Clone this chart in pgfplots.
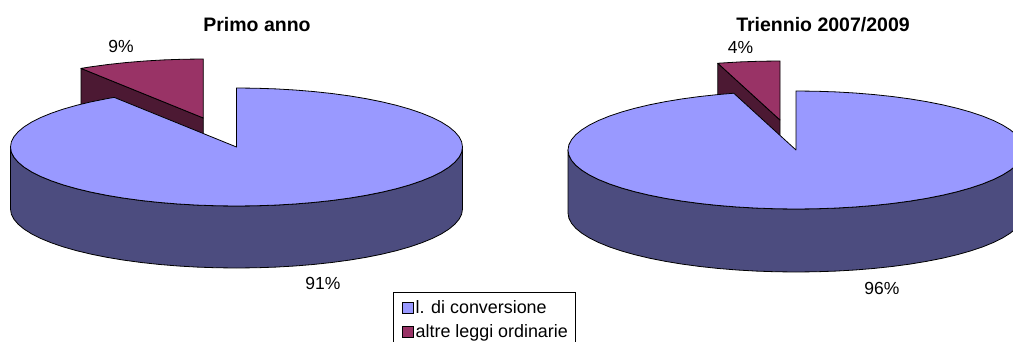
\documentclass[border=0pt]{standalone}
\usepackage{pgfplots}
\usepackage{fontspec}
\setmainfont{Liberation Sans}
\pgfplotsset{compat=1.18}
\usepackage{pgfplotstable}

\definecolor{conv}{HTML}{9999FF}
\definecolor{convdark}{HTML}{4C4C7F}
\definecolor{altre}{HTML}{993366}
\definecolor{altredark}{HTML}{4C1933}

% Outlines are listed as: angle on the rim (degrees, clockwise from the top),
% radius factor (1 on the rim, 0 at the apex), and 1 for the lower edge of a wall.

% Primo anno: 91% from 90 deg clockwise to -237.24 deg, 9% for the rest
\pgfplotstableread[row sep=\\]{
ang r d\\
90 1 0\\ 85 1 0\\ 80 1 0\\ 75 1 0\\ 70 1 0\\ 65 1 0\\ 60 1 0\\ 55 1 0\\ 50 1 0\\ 45 1 0\\
40 1 0\\ 35 1 0\\ 30 1 0\\ 25 1 0\\ 20 1 0\\ 15 1 0\\ 10 1 0\\ 5 1 0\\ 0 1 0\\
-5 1 0\\ -10 1 0\\ -15 1 0\\ -20 1 0\\ -25 1 0\\ -30 1 0\\ -35 1 0\\ -40 1 0\\ -45 1 0\\
-50 1 0\\ -55 1 0\\ -60 1 0\\ -65 1 0\\ -70 1 0\\ -75 1 0\\ -80 1 0\\ -85 1 0\\ -90 1 0\\
-95 1 0\\ -100 1 0\\ -105 1 0\\ -110 1 0\\ -115 1 0\\ -120 1 0\\ -125 1 0\\ -130 1 0\\ -135 1 0\\
-140 1 0\\ -145 1 0\\ -150 1 0\\ -155 1 0\\ -160 1 0\\ -165 1 0\\ -170 1 0\\ -175 1 0\\ -180 1 0\\
-185 1 0\\ -190 1 0\\ -195 1 0\\ -200 1 0\\ -205 1 0\\ -210 1 0\\ -215 1 0\\ -220 1 0\\ -225 1 0\\
-230 1 0\\ -235 1 0\\ -237.24 1 0\\ 0 0 0\\
}\primoMain
\pgfplotstableread[row sep=\\]{
ang r d\\
122.76 1 0\\ 120 1 0\\ 115 1 0\\ 110 1 0\\ 105 1 0\\ 100 1 0\\ 95 1 0\\ 90 1 0\\ 0 0 0\\
}\primoAltre
\pgfplotstableread[row sep=\\]{
ang r d\\
122.76 1 0\\ 0 0 0\\ 0 0 1\\ 122.76 1 1\\
}\primoAltreWall

% Triennio 2007/2009: 96% clockwise from 90 deg, 4% for the rest
\pgfplotstableread[row sep=\\]{
ang r d\\
90 1 0\\ 85 1 0\\ 80 1 0\\ 75 1 0\\ 70 1 0\\ 65 1 0\\ 60 1 0\\ 55 1 0\\ 50 1 0\\ 45 1 0\\
40 1 0\\ 35 1 0\\ 30 1 0\\ 25 1 0\\ 20 1 0\\ 15 1 0\\ 10 1 0\\ 5 1 0\\ 0 1 0\\
-5 1 0\\ -10 1 0\\ -15 1 0\\ -20 1 0\\ -25 1 0\\ -30 1 0\\ -35 1 0\\ -40 1 0\\ -45 1 0\\
-50 1 0\\ -55 1 0\\ -60 1 0\\ -65 1 0\\ -70 1 0\\ -75 1 0\\ -80 1 0\\ -85 1 0\\ -90 1 0\\
-95 1 0\\ -100 1 0\\ -105 1 0\\ -110 1 0\\ -115 1 0\\ -120 1 0\\ -125 1 0\\ -130 1 0\\ -135 1 0\\
-140 1 0\\ -145 1 0\\ -150 1 0\\ -155 1 0\\ -160 1 0\\ -165 1 0\\ -170 1 0\\ -175 1 0\\ -180 1 0\\
-185 1 0\\ -190 1 0\\ -195 1 0\\ -200 1 0\\ -205 1 0\\ -210 1 0\\ -215 1 0\\ -220 1 0\\ -225 1 0\\
-230 1 0\\ -235 1 0\\ -240 1 0\\ -245 1 0\\ -250 1 0\\ -254.16 1 0\\ 0 0 0\\
}\triennioMain
\pgfplotstableread[row sep=\\]{
ang r d\\
105.84 1 0\\ 100 1 0\\ 95 1 0\\ 90 1 0\\ 0 0 0\\
}\triennioAltre
\pgfplotstableread[row sep=\\]{
ang r d\\
105.84 1 0\\ 0 0 0\\ 0 0 1\\ 105.84 1 1\\
}\triennioAltreWall

% Front wall of a pie: upper rim left to right, lower rim back again
\pgfplotstableread[row sep=\\]{
ang r d\\
-180 1 0\\ -175 1 0\\ -170 1 0\\ -165 1 0\\ -160 1 0\\ -155 1 0\\ -150 1 0\\ -145 1 0\\ -140 1 0\\
-135 1 0\\ -130 1 0\\ -125 1 0\\ -120 1 0\\ -115 1 0\\ -110 1 0\\ -105 1 0\\ -100 1 0\\ -95 1 0\\ -90 1 0\\
-85 1 0\\ -80 1 0\\ -75 1 0\\ -70 1 0\\ -65 1 0\\ -60 1 0\\ -55 1 0\\ -50 1 0\\ -45 1 0\\
-40 1 0\\ -35 1 0\\ -30 1 0\\ -25 1 0\\ -20 1 0\\ -15 1 0\\ -10 1 0\\ -5 1 0\\ 0 1 0\\
0 1 1\\ -5 1 1\\ -10 1 1\\ -15 1 1\\ -20 1 1\\ -25 1 1\\ -30 1 1\\ -35 1 1\\ -40 1 1\\
-45 1 1\\ -50 1 1\\ -55 1 1\\ -60 1 1\\ -65 1 1\\ -70 1 1\\ -75 1 1\\ -80 1 1\\ -85 1 1\\ -90 1 1\\
-95 1 1\\ -100 1 1\\ -105 1 1\\ -110 1 1\\ -115 1 1\\ -120 1 1\\ -125 1 1\\ -130 1 1\\ -135 1 1\\
-140 1 1\\ -145 1 1\\ -150 1 1\\ -155 1 1\\ -160 1 1\\ -165 1 1\\ -170 1 1\\ -175 1 1\\ -180 1 1\\
}\frontWall

% #1 fill, #2 table, #3 centre x, #4 centre y, #5 half width, #6 wall depth
\newcommand{\pieface}[6]{%
  \addplot[fill=#1, draw=black, line width=0.8pt, line join=round, forget plot]
    table[x expr={#3+#5*\thisrow{r}*cos(\thisrow{ang})},
          y expr={#4-59*\thisrow{r}*sin(\thisrow{ang})+#6*\thisrow{d}}] {#2} -- cycle;%
}

\begin{document}
\begin{tikzpicture}
\useasboundingbox (0,0) rectangle (1013pt,342pt);
\begin{axis}[
  at={(0,0)}, anchor=south west,
  scale only axis, width=1013pt, height=342pt,
  xmin=0, xmax=1013, ymin=0, ymax=342, y dir=reverse,
  hide axis,
  legend cell align=left,
  legend image code/.code={\path (0pt,0pt); \draw[#1, draw=black, line width=0.7pt] (3pt,-5.5pt) rectangle (14pt,5.5pt);},
  legend style={at={(axis cs:393,292)}, anchor=north west, draw=black, line width=0.8pt,
    font=\fontsize{17.9}{20}\selectfont, inner xsep=6pt, inner ysep=6.5pt,
    row sep=6.5pt, fill=white,
    nodes={inner sep=1.5pt, anchor=west}},
]
% Primo anno
\pieface{altredark}{\primoAltreWall}{203.3}{118}{226}{62}
\pieface{altre}{\primoAltre}{203.3}{118}{226}{0}
\pieface{convdark}{\frontWall}{236.5}{147}{226}{62}
\pieface{conv}{\primoMain}{236.5}{147}{226}{0}
% Triennio 2007/2009
\pieface{altredark}{\triennioAltreWall}{780}{120}{228}{63}
\pieface{altre}{\triennioAltre}{780}{120}{228}{0}
\pieface{convdark}{\frontWall}{796}{150}{228}{63}
\pieface{conv}{\triennioMain}{796}{150}{228}{0}

\addlegendimage{fill=conv}
\addlegendentry{l. di conversione}
\addlegendimage{fill=altre}
\addlegendentry{altre leggi ordinarie}

\node[font=\fontsize{19.5}{20}\selectfont\bfseries] at (axis cs:257,25) {Primo anno};
\node[font=\fontsize{19.5}{20}\selectfont\bfseries] at (axis cs:823,24.5) {Triennio 2007/2009};
\node[font=\fontsize{17.5}{20}\selectfont] at (axis cs:121,46) {9\%};
\node[font=\fontsize{17.5}{20}\selectfont] at (axis cs:323,283) {91\%};
\node[font=\fontsize{17.5}{20}\selectfont] at (axis cs:740.5,47) {4\%};
\node[font=\fontsize{17.5}{20}\selectfont] at (axis cs:882,288) {96\%};
\end{axis}
\end{tikzpicture}
\end{document}
